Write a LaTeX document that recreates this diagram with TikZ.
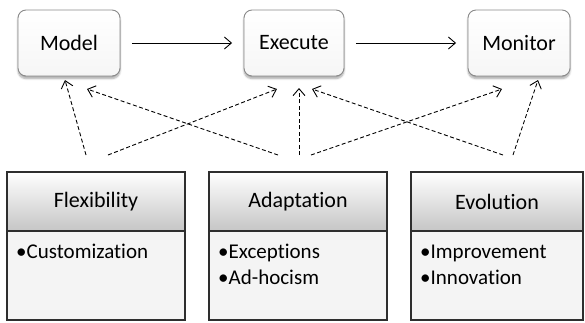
\documentclass[tikz,border=0pt]{standalone}
\usepackage{fontspec}
\setmainfont{Carlito}[Ligatures=NoCommon]
\usetikzlibrary{arrows.meta,shadows.blur}

\definecolor{stageline}{HTML}{8A8A8A}
\definecolor{panelline}{HTML}{2E2E2E}
\definecolor{panelbody}{HTML}{F4F4F4}

\begin{document}
\begin{tikzpicture}[x=1pt,y=-1pt,
  stage/.style={draw=stageline, line width=0.9pt, rounded corners=8pt,
    top color=white, bottom color=gray!7,
    minimum height=66pt, inner sep=0pt,
    font=\fontsize{22}{26}\selectfont,
    blur shadow={shadow xshift=0pt, shadow yshift=-2.5pt,
      shadow blur steps=6, shadow opacity=35}},
  flow/.style={line width=0.9pt, -{Straight Barb[length=7pt,width=12pt]},
    shorten <=11.5pt, shorten >=11.5pt},
  link/.style={line width=0.9pt, dash pattern=on 4pt off 2.5pt,
    -{Straight Barb[length=7pt,width=12pt]}},
  panelhead/.style={draw=panelline, line width=1.5pt,
    top color=white, bottom color=gray!45,
    minimum height=59pt, inner sep=0pt,
    font=\fontsize{22}{26}\selectfont},
  panelbody/.style={draw=panelline, line width=1.5pt, fill=panelbody,
    minimum height=89pt, inner sep=0pt},
  item/.style={anchor=base west, inner sep=0pt,
    font=\fontsize{21}{25}\selectfont}
]
\useasboundingbox (0,0) rectangle (585,322);

% process stages
\node[stage, minimum width=102pt] (model)   at (69,43)  {Model};
\node[stage, minimum width=100pt] (execute) at (294,43) {Execute};
\node[stage, minimum width=102pt] (monitor) at (519,43) {Monitor};

\draw[flow] (model) -- (execute);
\draw[flow] (execute) -- (monitor);

% property panels: body first, header on top of it
\node[panelbody, minimum width=178pt] (flexbody)  at (96,275.5)  {};
\node[panelhead, minimum width=178pt] (flexhead)  at (96,201.5)  {Flexibility};
\node[panelbody, minimum width=178pt] (adaptbody) at (298,275.5) {};
\node[panelhead, minimum width=178pt] (adapthead) at (298,201.5) {Adaptation};
\node[panelbody, minimum width=172pt] (evolbody)  at (497,275.5) {};
\node[panelhead, minimum width=172pt] (evolhead)  at (497,201.5) {Evolution};

\node[item] (flexi1)  at (16,258)  {•Customization};
\node[item] (adapti1) at (218,258) {•Exceptions};
\node[item] (adapti2) at (218,284) {•Ad-hocism};
\node[item] (evoli1)  at (420,258) {•Improvement};
\node[item] (evoli2)  at (420,284) {•Innovation};

% start points of the influence arrows
\coordinate (fs1) at (86,155);
\coordinate (fs2) at (108,155);
\coordinate (as1) at (278,155);
\coordinate (as2) at (299,155);
\coordinate (as3) at (311,155);
\coordinate (es1) at (503,155);
\coordinate (es2) at (513,155);

% end points below the stages
\coordinate (mt1) at (65,80);
\coordinate (mt2) at (87,89);
\coordinate (xt1) at (277,89);
\coordinate (xt2) at (299,88);
\coordinate (xt3) at (312,89);
\coordinate (nt1) at (502,89);
\coordinate (nt2) at (538,80);

\draw[link] (fs1) -- (mt1);
\draw[link] (fs2) -- (xt1);
\draw[link] (as1) -- (mt2);
\draw[link] (as2) -- (xt2);
\draw[link] (as3) -- (nt1);
\draw[link] (es1) -- (xt3);
\draw[link] (es2) -- (nt2);
\end{tikzpicture}
\end{document}
